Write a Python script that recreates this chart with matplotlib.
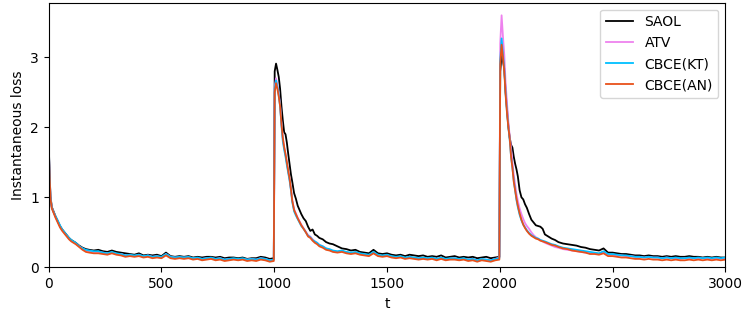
import matplotlib
matplotlib.use("Agg")
import matplotlib.pyplot as plt
import numpy as np

# time grid (sample positions)
t = [
    0, 4, 8, 14, 20, 30, 40, 50, 60, 70,
    80, 90, 100, 110, 120, 135, 150, 165, 180, 200,
    220, 240, 260, 280, 300, 320, 340, 360, 380, 400,
    420, 440, 460, 480, 500, 520, 540, 560, 580, 600,
    620, 640, 660, 680, 700, 720, 740, 760, 780, 800,
    820, 840, 860, 880, 900, 920, 940, 960, 980, 998,
    1002, 1008, 1014, 1020, 1026, 1032, 1038, 1044, 1050, 1056,
    1062, 1068, 1074, 1080, 1088, 1096, 1104, 1112, 1120, 1130,
    1140, 1150, 1160, 1170, 1180, 1190, 1200, 1215, 1230, 1245,
    1260, 1280, 1300, 1320, 1340, 1360, 1380, 1400, 1420, 1440,
    1460, 1480, 1500, 1520, 1540, 1560, 1580, 1600, 1620, 1640,
    1660, 1680, 1700, 1720, 1740, 1760, 1780, 1800, 1820, 1840,
    1860, 1880, 1900, 1920, 1940, 1960, 1980, 1998,
    2002, 2008, 2014, 2020, 2026, 2032, 2038, 2044, 2050, 2056,
    2062, 2068, 2074, 2080, 2088, 2096, 2104, 2112, 2120, 2130,
    2140, 2150, 2160, 2170, 2180, 2190, 2200, 2215, 2230, 2245,
    2260, 2280, 2300, 2320, 2340, 2360, 2380, 2400, 2420, 2440,
    2460, 2480, 2500, 2520, 2540, 2560, 2580, 2600, 2620, 2640,
    2660, 2680, 2700, 2720, 2740, 2760, 2780, 2800, 2820, 2840,
    2860, 2880, 2900, 2920, 2940, 2960, 2980, 3000,
]

saol = [
    1.78, 1.34, 1.01, 0.86, 0.81, 0.73, 0.66, 0.59, 0.54, 0.50,
    0.46, 0.42, 0.39, 0.37, 0.35, 0.31, 0.28, 0.26, 0.25, 0.24,
    0.25, 0.23, 0.22, 0.24, 0.22, 0.21, 0.20, 0.19, 0.18, 0.20,
    0.17, 0.18, 0.17, 0.18, 0.16, 0.21, 0.16, 0.15, 0.16, 0.15,
    0.16, 0.14, 0.15, 0.14, 0.15, 0.15, 0.14, 0.15, 0.13, 0.14,
    0.14, 0.13, 0.14, 0.12, 0.13, 0.13, 0.15, 0.14, 0.12, 0.13,
    2.80, 2.91, 2.82, 2.72, 2.55, 2.30, 2.10, 1.93, 1.90, 1.78,
    1.62, 1.48, 1.33, 1.22, 1.06, 0.98, 0.88, 0.82, 0.76, 0.70,
    0.66, 0.58, 0.52, 0.54, 0.47, 0.45, 0.42, 0.40, 0.36, 0.34,
    0.33, 0.30, 0.27, 0.26, 0.24, 0.25, 0.22, 0.21, 0.20, 0.25,
    0.20, 0.19, 0.20, 0.18, 0.17, 0.18, 0.16, 0.18, 0.17, 0.16,
    0.17, 0.15, 0.16, 0.15, 0.17, 0.14, 0.15, 0.16, 0.14, 0.15,
    0.14, 0.15, 0.13, 0.14, 0.15, 0.13, 0.14, 0.15,
    2.80, 3.02, 2.95, 2.84, 2.50, 2.25, 2.02, 1.85, 1.75, 1.71,
    1.58, 1.48, 1.40, 1.30, 1.10, 1.00, 0.97, 0.90, 0.85, 0.76,
    0.68, 0.64, 0.60, 0.59, 0.58, 0.55, 0.47, 0.44, 0.41, 0.39,
    0.36, 0.34, 0.33, 0.32, 0.31, 0.29, 0.28, 0.26, 0.25, 0.24,
    0.27, 0.21, 0.21, 0.20, 0.19, 0.19, 0.18, 0.17, 0.17, 0.16,
    0.17, 0.16, 0.16, 0.15, 0.16, 0.15, 0.16, 0.15, 0.15, 0.16,
    0.15, 0.15, 0.14, 0.15, 0.14, 0.15, 0.14, 0.14,
]

atv = [
    1.75, 1.31, 0.99, 0.85, 0.80, 0.72, 0.66, 0.59, 0.53, 0.49,
    0.45, 0.41, 0.38, 0.36, 0.34, 0.30, 0.27, 0.24, 0.23, 0.22,
    0.22, 0.21, 0.20, 0.21, 0.19, 0.19, 0.17, 0.17, 0.16, 0.18,
    0.15, 0.17, 0.15, 0.16, 0.14, 0.19, 0.15, 0.14, 0.14, 0.14,
    0.14, 0.13, 0.13, 0.12, 0.13, 0.13, 0.12, 0.13, 0.11, 0.12,
    0.12, 0.12, 0.12, 0.11, 0.12, 0.11, 0.13, 0.12, 0.10, 0.11,
    2.58, 2.70, 2.60, 2.48, 2.32, 2.06, 1.84, 1.71, 1.61, 1.49,
    1.37, 1.26, 1.12, 0.96, 0.83, 0.77, 0.71, 0.66, 0.61, 0.56,
    0.51, 0.46, 0.44, 0.40, 0.37, 0.35, 0.32, 0.30, 0.27, 0.25,
    0.23, 0.22, 0.23, 0.21, 0.20, 0.21, 0.19, 0.18, 0.17, 0.21,
    0.17, 0.16, 0.17, 0.15, 0.14, 0.15, 0.13, 0.15, 0.13, 0.13,
    0.13, 0.12, 0.13, 0.12, 0.13, 0.11, 0.12, 0.13, 0.11, 0.12,
    0.11, 0.12, 0.10, 0.11, 0.11, 0.10, 0.12, 0.14,
    3.20, 3.60, 3.30, 3.03, 2.62, 2.35, 2.08, 1.87, 1.70, 1.50,
    1.32, 1.18, 1.05, 0.95, 0.84, 0.76, 0.69, 0.63, 0.59, 0.55,
    0.50, 0.46, 0.43, 0.41, 0.39, 0.37, 0.35, 0.33, 0.31, 0.29,
    0.28, 0.26, 0.25, 0.24, 0.23, 0.22, 0.21, 0.20, 0.20, 0.19,
    0.22, 0.18, 0.18, 0.17, 0.17, 0.16, 0.16, 0.15, 0.15, 0.14,
    0.15, 0.14, 0.14, 0.13, 0.14, 0.13, 0.13, 0.12, 0.13, 0.12,
    0.13, 0.12, 0.13, 0.12, 0.12, 0.13, 0.12, 0.12,
]

cbce_kt = [
    1.74, 1.32, 0.99, 0.85, 0.80, 0.73, 0.67, 0.60, 0.54, 0.50,
    0.46, 0.42, 0.39, 0.37, 0.35, 0.30, 0.27, 0.25, 0.24, 0.23,
    0.23, 0.21, 0.20, 0.22, 0.20, 0.19, 0.17, 0.18, 0.17, 0.18,
    0.16, 0.17, 0.15, 0.16, 0.15, 0.19, 0.15, 0.14, 0.15, 0.14,
    0.15, 0.13, 0.14, 0.12, 0.13, 0.14, 0.12, 0.13, 0.11, 0.12,
    0.13, 0.12, 0.13, 0.11, 0.12, 0.11, 0.13, 0.12, 0.10, 0.11,
    2.55, 2.67, 2.58, 2.46, 2.30, 2.03, 1.80, 1.68, 1.58, 1.46,
    1.35, 1.24, 1.10, 0.93, 0.80, 0.74, 0.69, 0.64, 0.59, 0.55,
    0.50, 0.45, 0.43, 0.39, 0.37, 0.35, 0.32, 0.30, 0.27, 0.26,
    0.24, 0.23, 0.24, 0.22, 0.21, 0.22, 0.20, 0.19, 0.18, 0.22,
    0.18, 0.17, 0.18, 0.16, 0.15, 0.16, 0.14, 0.15, 0.14, 0.13,
    0.14, 0.13, 0.14, 0.12, 0.14, 0.12, 0.13, 0.13, 0.12, 0.13,
    0.11, 0.12, 0.10, 0.12, 0.11, 0.10, 0.12, 0.13,
    2.95, 3.27, 3.05, 2.82, 2.48, 2.22, 2.00, 1.82, 1.58, 1.42,
    1.24, 1.10, 0.96, 0.86, 0.75, 0.67, 0.61, 0.57, 0.53, 0.49,
    0.46, 0.44, 0.42, 0.41, 0.39, 0.38, 0.37, 0.35, 0.33, 0.32,
    0.30, 0.28, 0.27, 0.26, 0.25, 0.24, 0.23, 0.22, 0.21, 0.20,
    0.23, 0.19, 0.19, 0.18, 0.17, 0.17, 0.16, 0.15, 0.15, 0.14,
    0.15, 0.14, 0.14, 0.13, 0.14, 0.13, 0.14, 0.13, 0.13, 0.14,
    0.13, 0.14, 0.13, 0.14, 0.13, 0.14, 0.13, 0.14,
]

cbce_an = [
    1.72, 1.30, 0.98, 0.84, 0.79, 0.71, 0.64, 0.57, 0.52, 0.48,
    0.44, 0.40, 0.37, 0.35, 0.33, 0.29, 0.25, 0.22, 0.21, 0.20,
    0.20, 0.19, 0.18, 0.20, 0.18, 0.17, 0.15, 0.16, 0.15, 0.16,
    0.14, 0.15, 0.13, 0.14, 0.13, 0.17, 0.13, 0.12, 0.13, 0.12,
    0.13, 0.11, 0.12, 0.10, 0.11, 0.12, 0.10, 0.11, 0.09, 0.10,
    0.11, 0.10, 0.11, 0.09, 0.10, 0.09, 0.11, 0.10, 0.08, 0.09,
    2.50, 2.63, 2.55, 2.44, 2.30, 2.05, 1.85, 1.72, 1.62, 1.50,
    1.38, 1.27, 1.12, 0.95, 0.82, 0.76, 0.70, 0.65, 0.60, 0.55,
    0.50, 0.44, 0.42, 0.38, 0.35, 0.33, 0.30, 0.28, 0.25, 0.24,
    0.22, 0.21, 0.22, 0.20, 0.19, 0.20, 0.18, 0.17, 0.16, 0.20,
    0.16, 0.15, 0.16, 0.14, 0.13, 0.14, 0.12, 0.13, 0.12, 0.11,
    0.12, 0.11, 0.12, 0.10, 0.12, 0.10, 0.11, 0.11, 0.10, 0.11,
    0.09, 0.10, 0.08, 0.10, 0.09, 0.08, 0.10, 0.11,
    2.90, 3.18, 3.00, 2.79, 2.45, 2.20, 2.00, 1.84, 1.58, 1.42,
    1.22, 1.10, 0.98, 0.88, 0.77, 0.68, 0.61, 0.56, 0.52, 0.48,
    0.45, 0.43, 0.41, 0.40, 0.38, 0.37, 0.36, 0.34, 0.32, 0.31,
    0.29, 0.27, 0.26, 0.24, 0.23, 0.22, 0.21, 0.19, 0.19, 0.18,
    0.20, 0.16, 0.16, 0.15, 0.14, 0.14, 0.13, 0.12, 0.12, 0.11,
    0.12, 0.11, 0.11, 0.10, 0.11, 0.10, 0.11, 0.10, 0.10, 0.11,
    0.10, 0.11, 0.10, 0.11, 0.10, 0.11, 0.10, 0.11,
]

labels = ["SAOL", "ATV", "CBCE(KT)", "CBCE(AN)"]
colors = ["#000000", "#ee82ee", "#00bfff", "#e8501a"]
series = [saol, atv, cbce_kt, cbce_an]

fig = plt.figure(figsize=(7.48, 3.15), dpi=100)
ax = fig.add_axes([0.0651, 0.1514, 0.9046, 0.84])
for y, lab, c in zip(series, labels, colors):
    ax.plot(t, y, color=c, lw=1.3, label=lab)

ax.set_xlim(0, 3000)
ax.set_ylim(0, 3.78)
ax.set_xticks([0, 500, 1000, 1500, 2000, 2500, 3000])
ax.set_yticks([0, 1, 2, 3])
ax.tick_params(labelsize=10)
ax.set_xlabel("t", fontsize=10)
ax.set_ylabel("Instantaneous loss", fontsize=10)
ax.legend(loc="upper right", fontsize=10)
fig.savefig("out.png", dpi=100)
